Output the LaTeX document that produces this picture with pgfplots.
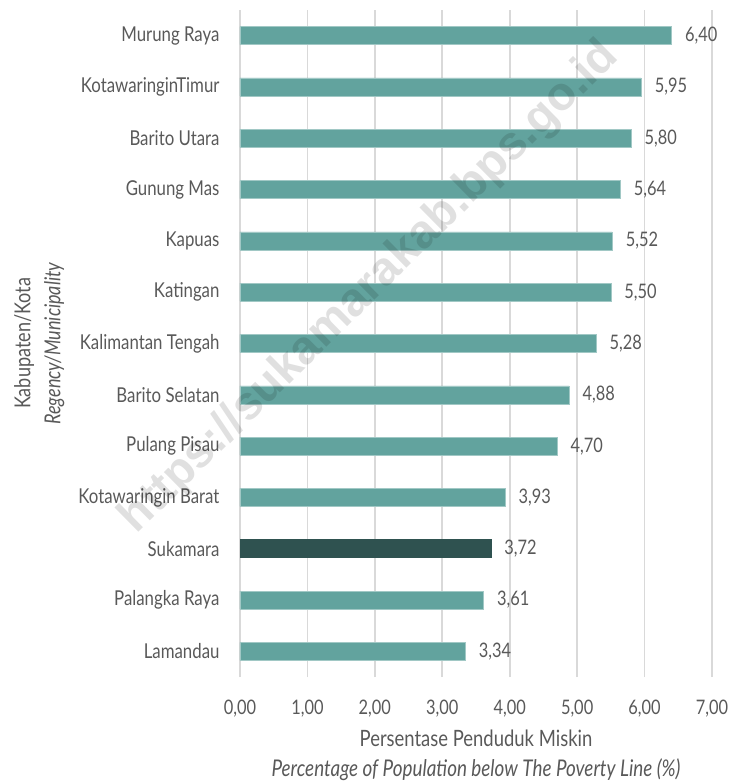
\documentclass[border=0pt]{standalone}
\usepackage{pgfplots}
\pgfplotsset{compat=1.18}
\usepackage{fontspec}
\setmainfont[FakeStretch=0.82]{Lato}
\newfontfamily\wmfont{Liberation Sans}
\definecolor{barc}{HTML}{62A39E}
\definecolor{bardark}{HTML}{2F5250}
\definecolor{txt}{HTML}{595959}
\definecolor{gridc}{HTML}{D9D9D9}
\begin{document}
\begin{tikzpicture}
\begin{axis}[
  at={(0,0)}, anchor=south west,
  scale only axis, width=472pt, height=667pt,
  xbar, bar width=18pt,
  xmin=0, xmax=7, ymin=-0.5, ymax=12.5,
  xtick={0,1,...,7},
  ytick={0,...,12},
  yticklabels={Lamandau,Palangka Raya,Sukamara,Kotawaringin Barat,Pulang Pisau,Barito Selatan,Kalimantan Tengah,Katingan,Kapuas,Gunung Mas,Barito Utara,KotawaringinTimur,Murung Raya},
  axis line style={draw=none},
  major tick length=0pt,
  xmajorgrids, grid style={draw=gridc, line width=1.8pt},
  /pgf/number format/assume math mode=true,
  /pgf/number format/.cd, use comma, fixed, fixed zerofill, precision=2, /pgfplots/.cd,
  xticklabel style={font=\fontsize{20}{22}\selectfont, text=txt, yshift=-19pt},
  yticklabel style={font=\fontsize{20.5}{22}\selectfont, text=txt, xshift=-17pt},
  nodes near coords,
  every node near coord/.append style={font=\fontsize{20}{22}\selectfont, text=txt, xshift=10pt},
  xlabel={Persentase Penduduk Miskin\\\textit{\fontsize{23}{30}\selectfont Percentage of Population below The Poverty Line (\%)}},
  xlabel style={align=center, font=\fontsize{22.5}{30}\selectfont, text=txt, at={(axis description cs:0.5,0)}, anchor=center, yshift=-78pt},
  ylabel={Kabupaten/Kota\\\textit{Regency/Municipality}},
  ylabel style={align=center, font=\fontsize{22}{30}\selectfont, text=txt, at={(axis description cs:-0.425,0.5)}, anchor=center},
  clip=false,
]
\addplot[bar shift=0pt, fill=barc, draw=barc!60!white, line width=0.6pt] coordinates {
 (3.34,0) (3.61,1) (3.93,3) (4.70,4) (4.88,5) (5.28,6) (5.50,7) (5.52,8) (5.64,9) (5.80,10) (5.95,11) (6.40,12)};
\addplot[bar shift=0pt, fill=bardark, draw=bardark, line width=0.6pt] coordinates {(3.72,2)};
\end{axis}
\node[rotate=44.6, text=black, opacity=0.12, font=\wmfont\bfseries\fontsize{47}{47}\selectfont] at (130pt,389pt) {https://sukamarakab.bps.go.id};
\pgfresetboundingbox
\path[use as bounding box] (-240pt,-105pt) rectangle (491pt,677pt);
\end{tikzpicture}
\end{document}
